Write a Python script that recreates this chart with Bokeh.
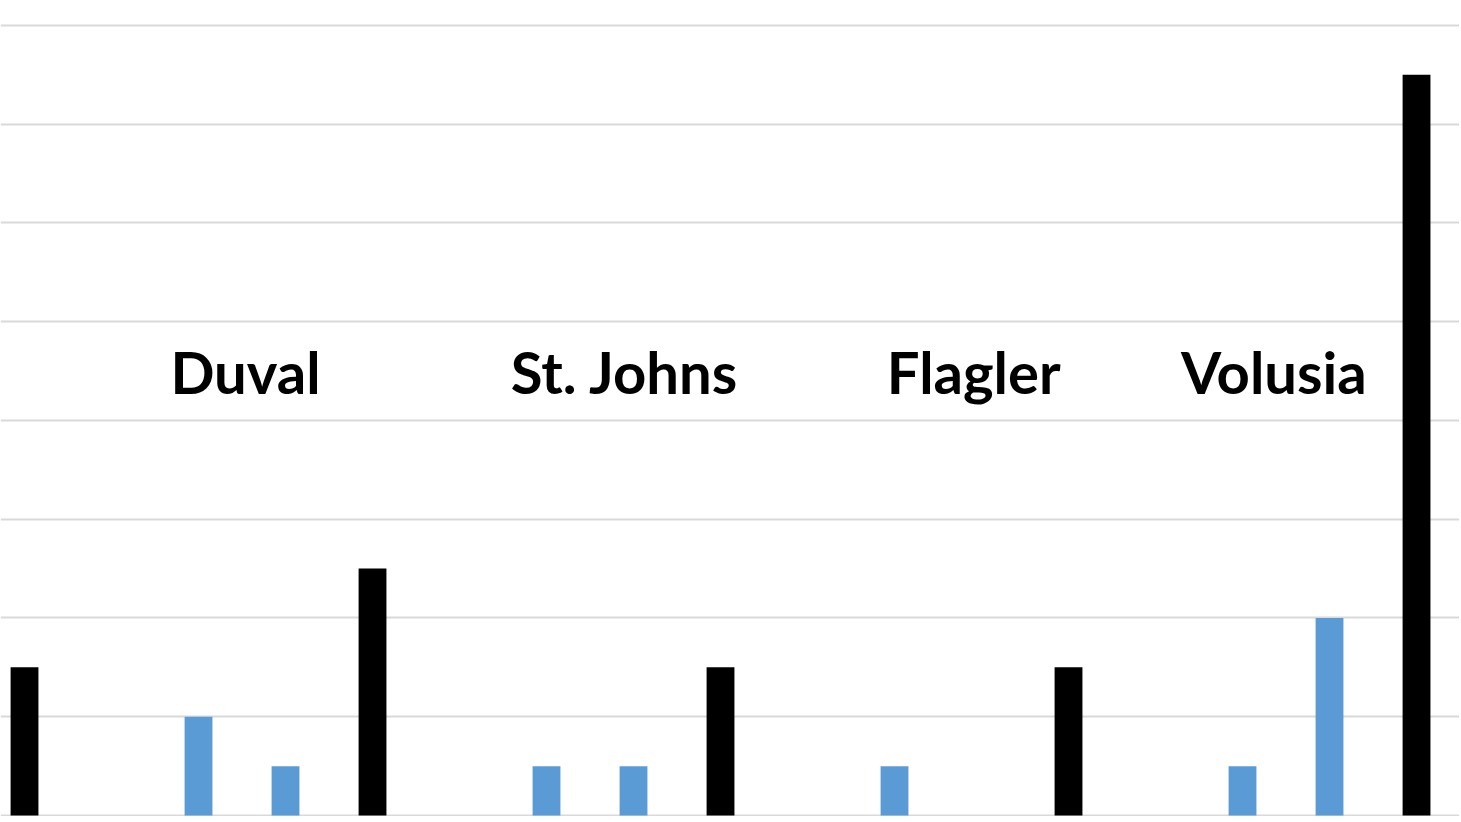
from bokeh.plotting import figure
from bokeh.models import Range1d, FixedTicker, ColumnDataSource
from bokeh.core.properties import value
from bokeh.embed import file_html
from bokeh.resources import INLINE

# Data: 17 slots, black = totals, blue = county values
slots = list(range(17))
values = [1.5, 0, 1, 0.5, 2.5, 0, 0.5, 0.5, 1.5, 0, 0.5, 0, 1.5, 0, 0.5, 2, 7.5]
kinds = ["total", "county", "county", "county", "total", "county", "county", "county",
         "total", "county", "county", "county", "total", "county", "county", "county", "total"]
colors = {"total": "#000000", "county": "#5B9BD5"}

labels = ["Duval", "St. Johns", "Flagler", "Volusia"]
label_x = [2.54, 6.90, 10.91, 14.36]
label_y = [4.50, 4.50, 4.50, 4.50]

src = ColumnDataSource(dict(x=slots, top=values, color=[colors[k] for k in kinds]))

p = figure(width=1459, height=816, output_backend="svg", toolbar_location=None,
           x_range=Range1d(-0.276, 16.494), y_range=Range1d(-0.0101, 8.253),
           min_border=0, min_border_left=0, min_border_right=0,
           min_border_top=0, min_border_bottom=0)
p.outline_line_color = None
p.xaxis.visible = False
p.yaxis.visible = False
p.xgrid.grid_line_color = None
p.ygrid.ticker = FixedTicker(ticks=[0, 1, 2, 3, 4, 5, 6, 7, 8])
p.ygrid.grid_line_color = "#d9d9d9"
p.ygrid.grid_line_width = 2

p.vbar(x="x", top="top", width=0.32, bottom=0, color="color", line_color=None, source=src)

p.text(x=label_x, y=label_y, text=labels, text_align="center", text_baseline="alphabetic",
       text_font=value("Lato"), text_font_style="bold", text_font_size="58px",
       text_color="#000000")

open("out.html", "w").write(file_html(p, INLINE))
